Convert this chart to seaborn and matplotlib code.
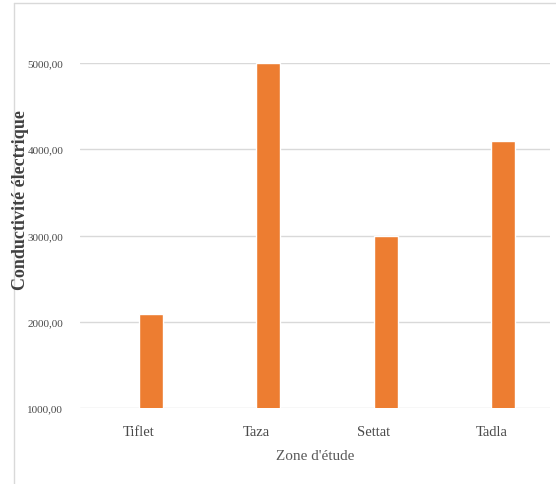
import numpy as np
import pandas as pd
import matplotlib
matplotlib.use("Agg")
import matplotlib.pyplot as plt
from matplotlib.lines import Line2D
from matplotlib.ticker import FuncFormatter
import seaborn as sns

# données
zones = ["Tiflet", "Taza", "Settat", "Tadla"]
serie_vide = [np.nan, np.nan, np.nan, np.nan]   # série masquée (emplacement vide à gauche)
conductivite = [2090, 5000, 3000, 4090]
y_ticks = [1000, 2000, 3000, 4000, 5000]

df = pd.DataFrame({
    "Zone": zones * 2,
    "Serie": ["S1"] * 4 + ["S2"] * 4,
    "Valeur": serie_vide + conductivite,
})

sns.set_style("white")
plt.rcParams["font.family"] = ["Liberation Serif", "DejaVu Serif"]

gris = "#595959"
fig = plt.figure(figsize=(5.56, 4.85), dpi=100)
ax = fig.add_axes([80 / 556, 76 / 485, 470 / 556, 345 / 485])

sns.barplot(data=df, x="Zone", y="Valeur", hue="Serie", hue_order=["S1", "S2"],
            order=zones, palette={"S1": "#4472C4", "S2": "#ED7D31"}, saturation=1,
            width=0.41, gap=0, legend=False, errorbar=None, ax=ax, zorder=3)

ax.set_xlim(-0.5, 3.5)
ax.set_ylim(1000, 5000)
ax.set_yticks(y_ticks)
ax.yaxis.set_major_formatter(FuncFormatter(lambda v, p: f"{v:.2f}".replace(".", ",")))
ax.grid(True, axis="y", color="#D9D9D9", linewidth=1.0, zorder=0)
ax.set_axisbelow(True)
for s in ax.spines.values():
    s.set_visible(False)
ax.tick_params(axis="both", length=0, colors="#4a4a4a", labelsize=8)
ax.tick_params(axis="y", pad=12)
ax.tick_params(axis="x", pad=12)
for t in ax.get_xticklabels():
    t.set_fontsize(10.5)

ax.set_xlabel("Zone d'étude", color=gris, fontsize=11, labelpad=8)
ax.set_ylabel("")
fig.text(21 / 556, (485 - 200) / 485, "Conductivité électrique", rotation=90,
         ha="center", va="center", fontsize=13, fontweight="bold", color="#404040")

# cadre du graphique
fig.add_artist(Line2D([14 / 556, 14 / 556], [0, 1 - 4 / 485], color="#D9D9D9", lw=1))
fig.add_artist(Line2D([14 / 556, 1], [1 - 4 / 485, 1 - 4 / 485], color="#D9D9D9", lw=1))

fig.savefig("out.png", dpi=100)
